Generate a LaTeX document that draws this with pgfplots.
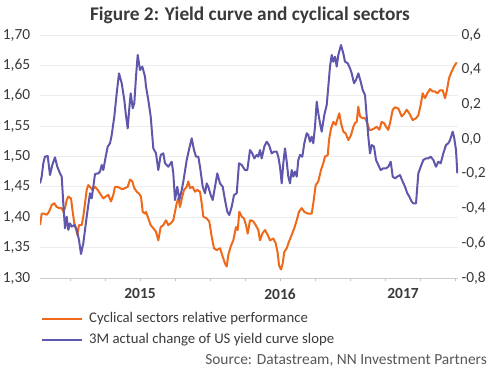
\documentclass[border=0pt]{standalone}
\usepackage{pgfplots}
\pgfplotsset{compat=1.18}
\usepackage{fontspec}
\setmainfont{Carlito}
\definecolor{nnorange}{HTML}{EE6A1A}
\definecolor{nnblue}{HTML}{5E57AB}
\definecolor{txt}{HTML}{3A3A3A}
\definecolor{gridc}{HTML}{EDEDED}
\begin{document}
\begin{tikzpicture}[x=1bp,y=1bp]
\path[use as bounding box] (0,0) rectangle (500,375);
\begin{axis}[
  at={(40bp,97bp)}, anchor=south west,
  scale only axis, width=418bp, height=243bp,
  xmin=40, xmax=458, ymin=1.30, ymax=1.70,
  axis y line*=left, axis x line*=bottom,
  y axis line style={draw=none},
  x axis line style={draw=gridc!70!gray},
  ytick={1.30,1.35,...,1.71},
  ymajorgrids, grid style={gridc, line width=0.8bp},
  major y tick style={draw=none},
  xtick={140,280,403}, xticklabels={2015,2016,2017},
  major x tick style={draw=none},
  minor xtick={70,105,...,456},
  minor x tick style={draw=gridc!60!gray, line width=0.6bp},
  minor tick length=3bp, tick align=outside,
  xticklabel style={font=\fontsize{15.5}{15.5}\selectfont\bfseries, text=txt, yshift=-3bp},
  yticklabel style={font=\fontsize{15.5}{15.5}\selectfont, text=txt, xshift=-2bp},
  /pgf/number format/assume math mode=true,
  /pgf/number format/.cd, use comma, fixed, fixed zerofill, precision=2,
]
\addplot[nnorange, line width=2bp, line join=round] coordinates {
(40,1.387)(41.7,1.406)(44.3,1.406)(46.7,1.404)(49,1.409)(51.7,1.420)(54.3,1.423)(56.7,1.417)(59,1.415)(61.7,1.415)(63.3,1.409)(65,1.415)(66.7,1.428)(68.3,1.434)(71,1.431)(72.7,1.409)(74.3,1.390)(76,1.382)(77.3,1.371)(79,1.387)(81.7,1.387)(83.3,1.401)(85,1.423)(86.7,1.445)(88.3,1.453)(90,1.450)(92.3,1.445)(95,1.450)(97.7,1.445)(100,1.439)(103.3,1.431)(105.7,1.434)(108.3,1.437)(111,1.426)(113.3,1.437)(115,1.450)(117.7,1.450)(120,1.448)(122.3,1.446)(125,1.448)(127.7,1.450)(130,1.462)(132.3,1.459)(134.3,1.448)(136.7,1.442)(139,1.439)(141,1.434)(142.7,1.409)(145,1.406)
(146,1.409)(148.3,1.398)(150.7,1.387)(153.3,1.382)(156,1.376)(158.3,1.362)(160.7,1.384)(163.3,1.387)(166,1.395)(168.3,1.387)(170.7,1.390)(173.3,1.395)(175,1.409)(176.7,1.423)(178.3,1.431)(180,1.417)(182.3,1.434)(184,1.445)(186.7,1.450)(188.3,1.459)(190,1.448)(192.7,1.450)(195,1.442)(197.3,1.445)(200,1.442)(201.7,1.423)(203.3,1.401)(206.7,1.398)(209.3,1.393)(211.7,1.368)(214,1.349)(216.7,1.346)(220,1.349)(222.7,1.335)(225,1.324)(226.7,1.319)(228.3,1.338)(230.7,1.352)(233.3,1.362)(236,1.384)(237.7,1.379)(239.3,1.409)(241.7,1.401)(244,1.398)(246,1.387)(247.7,1.373)(250,1.395)
(251,1.395)(253.3,1.393)(255.7,1.387)(258.3,1.379)(260,1.362)(262.3,1.373)(265,1.379)(267.7,1.371)(270,1.362)(273.3,1.365)(275.7,1.357)(277.7,1.341)(279,1.321)(281,1.314)(282.7,1.324)(284.3,1.343)(286.7,1.349)(289,1.360)(291.7,1.371)(294.3,1.382)(296.7,1.395)(299,1.409)(301.7,1.415)(304.3,1.409)(307.7,1.406)(311.7,1.406)(313.3,1.423)(315.7,1.453)(318.3,1.459)(321,1.478)(323.3,1.489)(325,1.500)(327.7,1.502)(329,1.527)(331,1.546)(333.3,1.557)(335.7,1.552)(337.7,1.563)(339.3,1.571)(341,1.555)(343.3,1.541)(345.7,1.538)(348.3,1.527)(351,1.535)(353.3,1.549)(355,1.555)
(356.7,1.557)(358.3,1.582)(360,1.566)(362.7,1.563)(365,1.563)(367.3,1.555)(369.3,1.544)(371.7,1.544)(374,1.546)(376.7,1.549)(379.3,1.544)(381.7,1.557)(384,1.555)(386,1.549)(388.3,1.544)(390,1.555)(392.7,1.577)(395,1.581)(398.3,1.579)(401.7,1.566)(404,1.570)(406.7,1.577)(409.3,1.571)(412.7,1.560)(416,1.563)(418.3,1.568)(420.7,1.585)(422.7,1.604)(425,1.596)(427.3,1.604)(430,1.611)(432.7,1.607)(435,1.607)(437.3,1.604)(440,1.609)(442.7,1.609)(445,1.596)(446.7,1.607)(449,1.629)(451.7,1.640)(454,1.648)(456.7,1.655)
};
\end{axis}
\begin{axis}[
  at={(40bp,97bp)}, anchor=south west,
  scale only axis, width=418bp, height=243bp,
  xmin=40, xmax=458, ymin=-0.8, ymax=0.6,
  axis y line*=right, hide x axis,
  y axis line style={draw=none},
  ytick={-0.8,-0.6,...,0.61},
  major y tick style={draw=none},
  yticklabel style={font=\fontsize{15.5}{15.5}\selectfont, text=txt, xshift=0bp},
  /pgf/number format/assume math mode=true,
  /pgf/number format/.cd, use comma, fixed, fixed zerofill, precision=1,
]
\addplot[nnblue, line width=2bp, line join=round] coordinates {
(40,-0.255)(41.7,-0.216)(43.3,-0.139)(45,-0.101)(47.7,-0.097)(50,-0.207)(52.3,-0.149)(55,-0.105)(57.3,-0.159)(60,-0.197)(61.7,-0.216)(63.3,-0.370)(65,-0.514)(66.7,-0.447)(68.3,-0.523)(70,-0.485)(71.7,-0.504)(74.3,-0.495)(76.7,-0.523)(79,-0.581)(81,-0.662)(83.3,-0.600)(85,-0.523)(86.7,-0.447)(88.3,-0.379)(90,-0.312)(91.7,-0.341)(93.3,-0.274)(95,-0.201)(98.3,-0.197)(100,-0.187)(101.7,-0.149)(103.3,-0.178)(105.7,-0.101)(107.7,-0.043)(110,-0.024)(111.7,0.024)(114.3,0.130)(116.7,0.264)(119,0.379)(121.7,0.322)(124.3,0.226)(125.7,0.149)(127.7,0.062)(129.3,0.178)(130.7,0.264)(132.7,0.178)(134.3,0.206)(136,0.360)(137.7,0.485)(140,0.398)(142.3,0.418)(145,0.360)
(146,0.302)(148.3,0.226)(150.7,0.130)(153.3,-0.053)(156,-0.082)(158.3,-0.178)(160.7,-0.091)(163.3,-0.082)(165,-0.139)(168.3,-0.159)(171.7,-0.130)(173.3,-0.197)(175,-0.351)(177.3,-0.274)(179.3,-0.351)(181.7,-0.293)(183.3,-0.245)(186.7,-0.120)(189.3,-0.053)(191.7,0.005)(194,-0.063)(196,-0.101)(198.3,-0.101)(200,-0.159)(202.7,-0.274)(205,-0.312)(206.7,-0.255)(208.3,-0.274)(210.7,-0.322)(212.7,-0.351)(215,-0.274)(217.3,-0.197)(220,-0.255)(222.7,-0.274)(225,-0.351)(227.3,-0.418)(229.3,-0.437)(231.7,-0.389)(234,-0.322)(236.7,-0.312)(239,-0.139)(241.7,-0.149)(245,-0.178)(247.3,-0.178)(250,-0.063)
(252.3,-0.082)(254.3,-0.111)(256.7,-0.091)(258.3,-0.101)(260,-0.063)(261.7,-0.111)(264.3,-0.043)(266.7,-0.015)(269,-0.034)(271.7,-0.082)(274.3,-0.072)(276.7,-0.072)(278.3,-0.101)(280,-0.159)(281.7,-0.255)(283.3,-0.139)(285,-0.053)(286.7,-0.130)(288.3,-0.216)(290,-0.255)(291.7,-0.178)(293.3,-0.216)(295,-0.187)(296.7,-0.216)(298.3,-0.120)(300,-0.091)(302.3,-0.101)(304.3,-0.024)(306.7,0.034)(308.3,0.024)(310,-0.015)(311.7,0.014)(313.3,-0.024)(315,0.072)(316.7,0.216)(318.3,0.149)(320,0.091)(321.7,0.043)(324.3,0.139)(326.7,0.197)(328.3,0.302)(330,0.418)(331.7,0.485)(333.3,0.446)(335,0.475)(336.7,0.418)(338.3,0.485)(341,0.542)(343.3,0.494)(345,0.446)(347.7,0.437)(350,0.408)
(351.7,0.379)(354,0.322)(356,0.341)(358.3,0.379)(360.7,0.331)(362.7,0.283)(365,0.254)(366.7,0.130)(368.3,0.014)(370,-0.082)(371.7,-0.034)(374,-0.043)(376,-0.120)(378.3,-0.149)(380.7,-0.178)(383.3,-0.168)(386,-0.168)(388.3,-0.159)(390.7,-0.130)(392.7,-0.216)(395,-0.226)(397.3,-0.216)(400,-0.207)(402.7,-0.245)(405,-0.274)(407.3,-0.312)(409.3,-0.331)(411.7,-0.360)(413.3,-0.370)(416,-0.370)(418.3,-0.197)(420.7,-0.159)(423.3,-0.120)(426,-0.111)(428.3,-0.111)(430.7,-0.101)(433.3,-0.120)(436,-0.159)(438.3,-0.130)(440.7,-0.139)(443.3,-0.082)(446,-0.034)(448.3,-0.024)(450,-0.005)(452.7,0.043)(454,0.014)(456,-0.063)(457.3,-0.197)
};
\end{axis}
\node[font=\fontsize{19.4}{19.4}\selectfont\bfseries, text=txt] at (250,360) {Figure 2: Yield curve and cyclical sectors};
\draw[nnorange, line width=2bp] (42,56) -- (82,56);
\node[anchor=west, font=\fontsize{14.8}{14.8}\selectfont, text=txt, inner sep=0pt] at (89,56) {Cyclical sectors relative performance};
\draw[nnblue, line width=2bp] (42,35) -- (82,35);
\node[anchor=west, font=\fontsize{14.8}{14.8}\selectfont, text=txt, inner sep=0pt] at (89,35) {3M actual change of US yield curve slope};
\node[anchor=east, font=\fontsize{15.5}{15.5}\selectfont, text=txt!85, inner sep=0pt] at (487,15) {Source: Datastream, NN Investment Partners};
\end{tikzpicture}
\end{document}
